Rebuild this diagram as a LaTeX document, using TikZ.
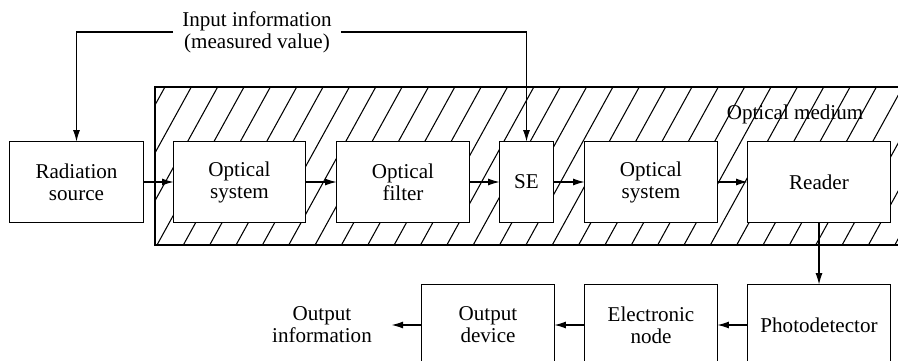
\documentclass[tikz,border=0pt]{standalone}
\usepackage{fontspec}
\setmainfont{Liberation Serif}
\usetikzlibrary{arrows.meta}

\tikzset{
  lbl/.style = {align=center, font=\rmfamily\fontsize{12}{12.5}\selectfont},
  blk/.style = {lbl, fill=white, minimum height=1.6cm, inner sep=0pt},
  >={Latex[length=6.5pt,width=4pt]}
}

\begin{document}
\begin{tikzpicture}[x=0.02cm, y=-0.02cm, line width=0.6pt]
\useasboundingbox (0,0) rectangle (898,361);

\foreach \i in {-3,...,29}{
	\pgfmathsetmacro\xb{157+26.35*\i}
	\pgfmathsetmacro\xs{max(155,\xb)}
	\pgfmathsetmacro\ys{245-(\xs-\xb)*158/87}
	\draw (\xs,\ys) -- (\xb+87,87);
}
\draw (155,87) rectangle (910,245);

\node [blk, minimum width=2.66cm] (src) at (76.5,182) {Radiation\\source};
\node [blk, minimum width=2.62cm] (os1) at (239.5,182) {Optical\\system};
\node [blk, minimum width=2.64cm] (filt) at (403,182) {Optical\\filter};
\node [blk, minimum width=1.06cm] (se) at (526.5,182) {SE};
\node [blk, minimum width=2.64cm] (os2) at (651,182) {Optical\\system};
\node [blk, minimum width=2.84cm] (rdr) at (819,182) {Reader};

\node [blk, minimum width=2.84cm] (pd) at (819,325) {Photodetector};
\node [blk, minimum width=2.64cm] (en) at (651,325) {Electronic\\node};
\node [blk, minimum width=2.64cm] (od) at (488,325) {Output\\device};
\node [lbl, inner xsep=11pt] (outinfo) at (322,325) {Output\\information};

\node [lbl, inner xsep=5pt] (inp) at (257,32) {Input information\\(measured value)};
\node [lbl] (medium) at (795,114) {Optical medium};

\foreach \n in {src,os1,filt,se,os2,rdr,pd,en,od}{
	\draw (\n.south west) rectangle (\n.north east);
}

\draw [->] (inp.west) -| (src);
\draw [->] (inp.east) -| (se);

\draw [->] (src) -- (os1);
\draw [->] (os1) -- (filt);
\draw [->] (filt) -- (se);
\draw [->] (se) -- (os2);
\draw [->] (os2) -- (rdr);
\draw [->] (rdr) -- (pd);
\draw [->] (pd) -- (en);
\draw [->] (en) -- (od);
\draw [->] (od) -- (outinfo);
\end{tikzpicture}
\end{document}
